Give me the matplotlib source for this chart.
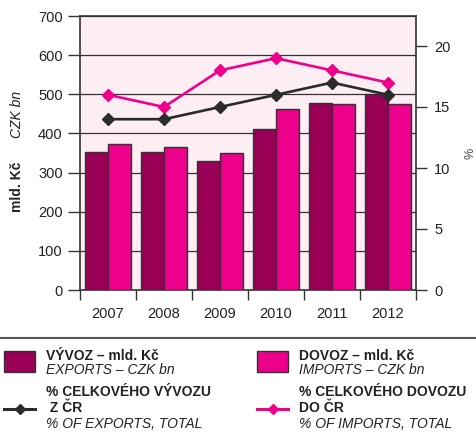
import matplotlib
matplotlib.use("Agg")
import matplotlib.pyplot as plt
from matplotlib.patches import Rectangle
from matplotlib.lines import Line2D
import numpy as np

plt.rcParams['font.family'] = ['Liberation Sans', 'DejaVu Sans']

years = ['2007', '2008', '2009', '2010', '2011', '2012']
exports_czk = [353, 353, 330, 411, 477, 500]
imports_czk = [372, 366, 349, 463, 474, 474]
exports_pct = [14, 14, 15, 16, 17, 16]
imports_pct = [16, 15, 18, 19, 18, 17]

C_EXP = '#9b0057'
C_IMP = '#ec008c'
C_BG = '#fdeef4'
C_DARK = '#2b2b2b'

W, H = 476, 434
fig = plt.figure(figsize=(W / 100, H / 100), dpi=100)

def fx(px):
    return px / W

def fy(py):
    return 1 - py / H

ax = fig.add_axes([fx(80), fy(290), fx(416) - fx(80), fy(16) - fy(290)])
ax.set_facecolor(C_BG)
x = np.arange(len(years))
bw = 0.405
ax.bar(x - bw / 2, exports_czk, bw, color=C_EXP, edgecolor='#333333', linewidth=1, zorder=3)
ax.bar(x + bw / 2, imports_czk, bw, color=C_IMP, edgecolor='#333333', linewidth=1, zorder=3)
ax.set_xlim(-0.5, len(years) - 0.5)
ax.set_ylim(0, 700)
ax.set_yticks(range(0, 701, 100))
ax.yaxis.grid(True, color='#333333', linewidth=0.9)
ax.set_axisbelow(True)
ax.set_xticks(np.arange(-0.5, len(years), 1.0))
ax.set_xticklabels([])
ax.set_xticks(x, minor=True)
ax.set_xticklabels(years, minor=True)
ax.tick_params(axis='x', which='major', direction='out', length=7.5, width=1, color='#333333')
ax.tick_params(axis='x', which='minor', length=0, pad=12, labelsize=10.5, labelcolor='#222222')
ax.tick_params(axis='y', direction='out', length=8.5, width=1, color='#333333', pad=4, labelsize=10.5, labelcolor='#222222')
for s in ax.spines.values():
    s.set_color('#333333')
    s.set_linewidth(1.2)

ax2 = ax.twinx()
ax2.set_ylim(0, (290 - 16) / 12.2)
ax2.set_yticks([0, 5, 10, 15, 20])
ax2.tick_params(axis='y', direction='out', length=8, width=1, color='#333333', pad=5, labelsize=10.5, labelcolor='#222222')
ax2.plot(x, imports_pct, color=C_IMP, linewidth=1.9, marker='D', markersize=6.5, zorder=5)
ax2.plot(x, exports_pct, color=C_DARK, linewidth=1.9, marker='D', markersize=6.5, zorder=5)
for s in ax2.spines.values():
    s.set_visible(False)

fig.text(fx(17), fy(187), 'mld. Kč', rotation=90, ha='center', va='center', fontsize=10, fontweight='bold', color='#222222')
fig.text(fx(17), fy(114), 'CZK bn', rotation=90, ha='center', va='center', fontsize=10, style='italic', color='#222222')
fig.text(fx(470), fy(153), '%', rotation=90, ha='center', va='center', fontsize=9, color='#444444')

# separator line
fig.add_artist(Line2D([0, 1], [fy(338), fy(338)], transform=fig.transFigure, color='#555555', linewidth=1.5))

# legend swatches
for x0, col in [(4, C_EXP), (257, C_IMP)]:
    fig.add_artist(Rectangle((fx(x0), fy(372)), fx(31), fy(351) - fy(372), transform=fig.transFigure,
                             facecolor=col, edgecolor='#333333', linewidth=1))
for x0, col in [(4, C_DARK), (257, C_IMP)]:
    fig.add_artist(Line2D([fx(x0), fx(x0 + 31)], [fy(409), fy(409)], transform=fig.transFigure,
                          color=col, linewidth=2.2))
    fig.add_artist(Line2D([fx(x0 + 15.5)], [fy(409)], transform=fig.transFigure, color=col,
                          marker='D', markersize=5.5, linestyle='none'))

tc = '#222222'
fig.text(fx(46), fy(355.5), 'VÝVOZ – mld. Kč', fontsize=10, fontweight='bold', va='center', color=tc)
fig.text(fx(46), fy(370.5), 'EXPORTS – CZK bn', fontsize=10, style='italic', va='center', color=tc)
fig.text(fx(299), fy(355.5), 'DOVOZ – mld. Kč', fontsize=10, fontweight='bold', va='center', color=tc)
fig.text(fx(299), fy(370.5), 'IMPORTS – CZK bn', fontsize=10, style='italic', va='center', color=tc)

fig.text(fx(46), fy(392.5), '% CELKOVÉHO VÝVOZU', fontsize=10, fontweight='bold', va='center', color=tc)
fig.text(fx(46), fy(408), ' Z ČR', fontsize=10, fontweight='bold', va='center', color=tc)
fig.text(fx(46), fy(424), '% OF EXPORTS, TOTAL', fontsize=10, style='italic', va='center', color=tc)
fig.text(fx(299), fy(392.5), '% CELKOVÉHO DOVOZU', fontsize=10, fontweight='bold', va='center', color=tc)
fig.text(fx(299), fy(408), 'DO ČR', fontsize=10, fontweight='bold', va='center', color=tc)
fig.text(fx(299), fy(424), '% OF IMPORTS, TOTAL', fontsize=10, style='italic', va='center', color=tc)

fig.savefig('out.png', dpi=100)
